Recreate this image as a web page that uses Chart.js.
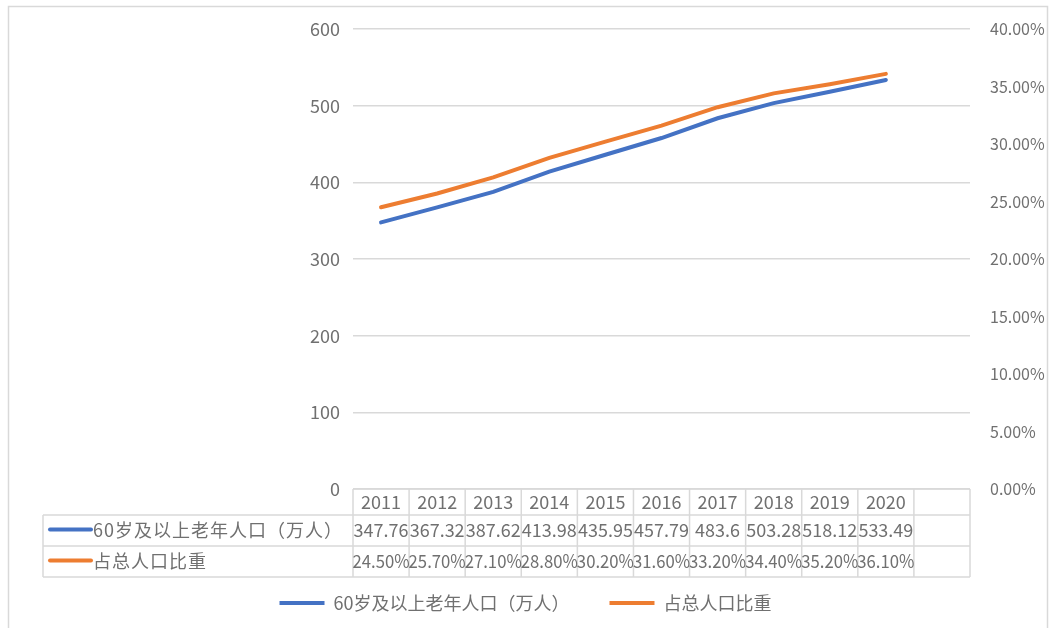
<!DOCTYPE html>
<html>
<head>
<meta charset="utf-8">
<script src="https://cdn.jsdelivr.net/npm/chart.js@4"></script>
<style>
  html, body { margin: 0; padding: 0; background: #fff; }
  #wrap { width: 1051px; height: 628px; position: relative; }
</style>
</head>
<body>
<div id="wrap"><canvas id="grafik" width="1051" height="628"></canvas></div>
<script>
// data
const tahun = ['2011', '2012', '2013', '2014', '2015', '2016', '2017', '2018', '2019', '2020', '']
const penduduk = [347.76, 367.32, 387.62, 413.98, 435.95, 457.79, 483.6, 503.28, 518.12, 533.49]
const rasio = [24.5, 25.7, 27.1, 28.8, 30.2, 31.6, 33.2, 34.4, 35.2, 36.1]
const teksPenduduk = ['347.76', '367.32', '387.62', '413.98', '435.95', '457.79', '483.6', '503.28', '518.12', '533.49']
const teksRasio = ['24.50%', '25.70%', '27.10%', '28.80%', '30.20%', '31.60%', '33.20%', '34.40%', '35.20%', '36.10%']
const namaSeri = ['60岁及以上老年人口（万人）', '占总人口比重']
const warna = ['#4472C4', '#ED7D31']

const fontUtama = '"Noto Sans CJK SC", "Noto Sans", sans-serif'
const abu = '#707070'
const garis = '#d9d9d9'

// tabel data di bawah grafik
const tabelPlugin = {
    id: 'tabel',
    afterDraw(chart) {
        const ctx = chart.ctx
        const x = chart.scales.x
        const area = chart.chartArea
        const setengah = (x.getPixelForValue(1) - x.getPixelForValue(0)) / 2
        const kiriTabel = 43
        const barisY = [area.bottom, area.bottom + 26, area.bottom + 57, area.bottom + 88]

        ctx.save()
        ctx.strokeStyle = garis
        ctx.lineWidth = 1.5

        // garis horizontal
        ctx.beginPath()
        ctx.moveTo(area.left, barisY[0]); ctx.lineTo(area.right, barisY[0])
        for (let i = 1; i < 4; i++) {
            ctx.moveTo(kiriTabel, barisY[i]); ctx.lineTo(area.right, barisY[i])
        }
        // garis vertikal
        ctx.moveTo(kiriTabel, barisY[1]); ctx.lineTo(kiriTabel, barisY[3])
        for (let i = 0; i <= tahun.length; i++) {
            const px = x.getPixelForValue(0) - setengah + i * setengah * 2
            ctx.moveTo(px, barisY[0]); ctx.lineTo(px, barisY[3])
        }
        ctx.stroke()

        // teks tahun dan nilai
        ctx.fillStyle = abu
        ctx.textAlign = 'center'
        ctx.textBaseline = 'middle'
        ctx.font = '18px ' + fontUtama
        tahun.forEach((t, i) => {
            const px = x.getPixelForValue(i)
            ctx.fillText(t, px, (barisY[0] + barisY[1]) / 2)
            if (i < teksPenduduk.length) {
                ctx.fillText(teksPenduduk[i], px, (barisY[1] + barisY[2]) / 2, setengah * 2 + 1)
                ctx.fillText(teksRasio[i], px, (barisY[2] + barisY[3]) / 2, setengah * 2 + 1)
            }
        })

        // label baris
        ctx.textAlign = 'left'
        ctx.font = '18px ' + fontUtama
        ctx.letterSpacing = '1px'
        ctx.lineCap = 'round'
        namaSeri.forEach((n, k) => {
            const cy = (barisY[k + 1] + barisY[k + 2]) / 2
            ctx.strokeStyle = warna[k]
            ctx.lineWidth = 4
            ctx.beginPath()
            ctx.moveTo(50, cy - 1); ctx.lineTo(91, cy - 1)
            ctx.stroke()
            ctx.fillStyle = abu
            ctx.fillText(n, 93, cy)
        })
        ctx.letterSpacing = '0px'

        // bingkai luar
        ctx.strokeStyle = '#d9d9d9'
        ctx.lineWidth = 1.5
        ctx.lineCap = 'butt'
        ctx.beginPath()
        ctx.moveTo(8.5, 628); ctx.lineTo(8.5, 6.5); ctx.lineTo(1047.5, 6.5); ctx.lineTo(1047.5, 628)
        ctx.stroke()
        ctx.restore()
    }
}

const ctx = document.getElementById('grafik').getContext('2d')
const grafik = new Chart(ctx, {
    type: 'line',
    data: {
        labels: tahun,
        datasets: [{
            label: namaSeri[0],
            data: penduduk,
            borderColor: warna[0],
            backgroundColor: warna[0],
            borderWidth: 4,
            borderCapStyle: 'round',
            pointRadius: 0,
            tension: 0,
            yAxisID: 'y',
            fill: false
        }, {
            label: namaSeri[1],
            data: rasio,
            borderColor: warna[1],
            backgroundColor: warna[1],
            borderWidth: 4,
            borderCapStyle: 'round',
            pointRadius: 0,
            tension: 0,
            yAxisID: 'y1',
            fill: false
        }]
    },
    options: {
        responsive: false,
        animation: false,
        layout: { padding: { top: 29, left: 0, right: 0, bottom: 6 } },
        plugins: {
            tooltip: { enabled: false },
            legend: {
                position: 'bottom',
                labels: {
                    usePointStyle: true,
                    pointStyle: 'line',
                    pointStyleWidth: 45,
                    boxHeight: 4,
                    color: abu,
                    font: { size: 18, family: fontUtama },
                    padding: 40
                }
            }
        },
        scales: {
            x: {
                offset: true,
                grid: { display: false },
                border: { display: false },
                ticks: { display: false },
                afterFit(s) { s.height = 65 }
            },
            y: {
                position: 'left',
                min: 0, max: 600,
                ticks: { stepSize: 100, color: abu, padding: 13, font: { size: 18, family: fontUtama } },
                grid: { color: garis, lineWidth: 1.5, drawTicks: false },
                border: { display: false },
                afterFit(s) { s.width = 353 }
            },
            y1: {
                position: 'right',
                min: 0, max: 40,
                ticks: {
                    stepSize: 5, color: abu, padding: 12,
                    font: { size: 16, family: fontUtama },
                    callback: v => v.toFixed(2) + '%'
                },
                grid: { display: false },
                border: { display: false },
                afterFit(s) { s.width = 81 }
            }
        }
    },
    plugins: [tabelPlugin]
})
</script>
</body>
</html>
